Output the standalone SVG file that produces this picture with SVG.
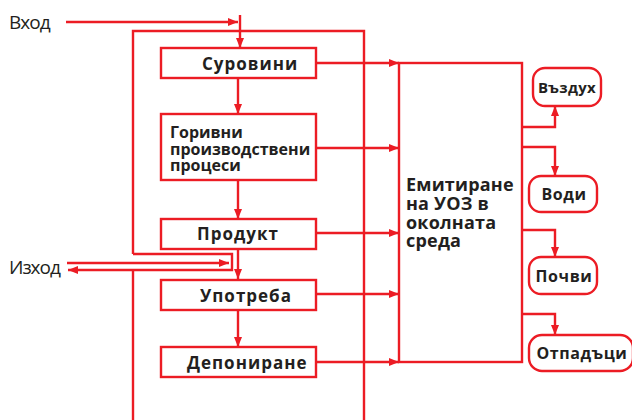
<svg xmlns="http://www.w3.org/2000/svg" width="632" height="420" viewBox="0 0 632 420">
<style>
.ln{fill:none;stroke:#ec1c24;stroke-width:2.4}
.bx{fill:#fff;stroke:#ec1c24;stroke-width:2.4}
.t{font-family:"Open Sans","Noto Sans",sans-serif;font-weight:bold;font-size:17px;letter-spacing:1px;fill:#231f20}
.g{font-family:"Open Sans","Noto Sans",sans-serif;font-weight:bold;font-size:16px;letter-spacing:0px;fill:#231f20}
.s{font-family:"Open Sans","Noto Sans",sans-serif;font-weight:bold;font-size:16px;letter-spacing:0.6px;fill:#231f20}
.r{font-family:"Open Sans","Noto Sans",sans-serif;font-size:19px;fill:#231f20;letter-spacing:-1px}
.big{font-family:"Open Sans","Noto Sans",sans-serif;font-weight:bold;font-size:18px;letter-spacing:0.2px;fill:#231f20}
</style>
<defs>
<marker id="a" viewBox="0 0 10 8" refX="10" refY="4" markerWidth="10" markerHeight="8" markerUnits="userSpaceOnUse" orient="auto">
<path d="M0,0 L10,4 L0,8 Z" fill="#ec1c24"/>
</marker>
</defs>
<g id="connectors">
<path class="ln" d="M133,254 V31 H364 V420"/>
<path class="ln" d="M133,254 H232 V270 H68" marker-end="url(#a)"/>
<path class="ln" d="M133,270 V420"/>
<path class="ln" d="M67,263 H229" marker-end="url(#a)"/>
<path class="ln" d="M66,22 H238" marker-end="url(#a)"/>
<path class="ln" d="M240,15 V48" marker-end="url(#a)"/>
<path class="ln" d="M238,79 V114" marker-end="url(#a)"/>
<path class="ln" d="M238,181 V219" marker-end="url(#a)"/>
<path class="ln" d="M238,249 V279" marker-end="url(#a)"/>
<path class="ln" d="M238,311 V347" marker-end="url(#a)"/>
<path class="ln" d="M316,63 H399" marker-end="url(#a)"/>
<path class="ln" d="M316,148 H399" marker-end="url(#a)"/>
<path class="ln" d="M316,233 H399" marker-end="url(#a)"/>
<path class="ln" d="M316,294 H399" marker-end="url(#a)"/>
<path class="ln" d="M316,362 H399" marker-end="url(#a)"/>
<path class="ln" d="M522,127 H555 V106" marker-end="url(#a)"/>
<path class="ln" d="M522,147 H555 V176" marker-end="url(#a)"/>
<path class="ln" d="M522,230 H555 V257" marker-end="url(#a)"/>
<path class="ln" d="M522,314 H555 V335" marker-end="url(#a)"/>
</g>
<g id="vhod"><text class="r" x="9" y="29">Вход</text></g>
<g id="izhod"><text class="r" x="9" y="274">Изход</text></g>
<g id="surovini"><rect class="bx" x="161" y="48" width="155" height="30"/><text class="t" x="202" y="70">Суровини</text></g>
<g id="gorivni"><rect class="bx" x="161" y="114" width="155" height="66"/><text class="g" x="170" y="138">Горивни</text><text class="g" x="170" y="155">производствени</text><text class="g" x="170" y="171">процеси</text></g>
<g id="produkt"><rect class="bx" x="161" y="219" width="155" height="30"/><text class="t" x="197" y="240">Продукт</text></g>
<g id="upotreba"><rect class="bx" x="161" y="280" width="155" height="30"/><text class="t" x="200" y="302">Употреба</text></g>
<g id="deponirane"><rect class="bx" x="161" y="347" width="155" height="30"/><text class="t" x="187" y="369">Депониране</text></g>
<g id="emitirane"><rect class="bx" x="399" y="63" width="123" height="299"/><text class="big" x="406" y="191">Емитиране</text><text class="big" x="406" y="210">на УОЗ в</text><text class="big" x="406" y="229">околната</text><text class="big" x="406" y="247">среда</text></g>
<g id="vazduh"><rect class="bx" x="533" y="68" width="68" height="38" rx="12"/><text class="s" x="567" y="93" text-anchor="middle" style="font-size:15px;letter-spacing:0.3px">Въздух</text></g>
<g id="vodi"><rect class="bx" x="529" y="176" width="68" height="36" rx="12"/><text class="s" x="564" y="200" text-anchor="middle">Води</text></g>
<g id="pochvi"><rect class="bx" x="529" y="257" width="68" height="37" rx="12"/><text class="s" x="564" y="282" text-anchor="middle">Почви</text></g>
<g id="otpadaci"><rect class="bx" x="529" y="335" width="104" height="36" rx="13"/><text class="s" x="582" y="359" text-anchor="middle">Отпадъци</text></g>
</svg>
